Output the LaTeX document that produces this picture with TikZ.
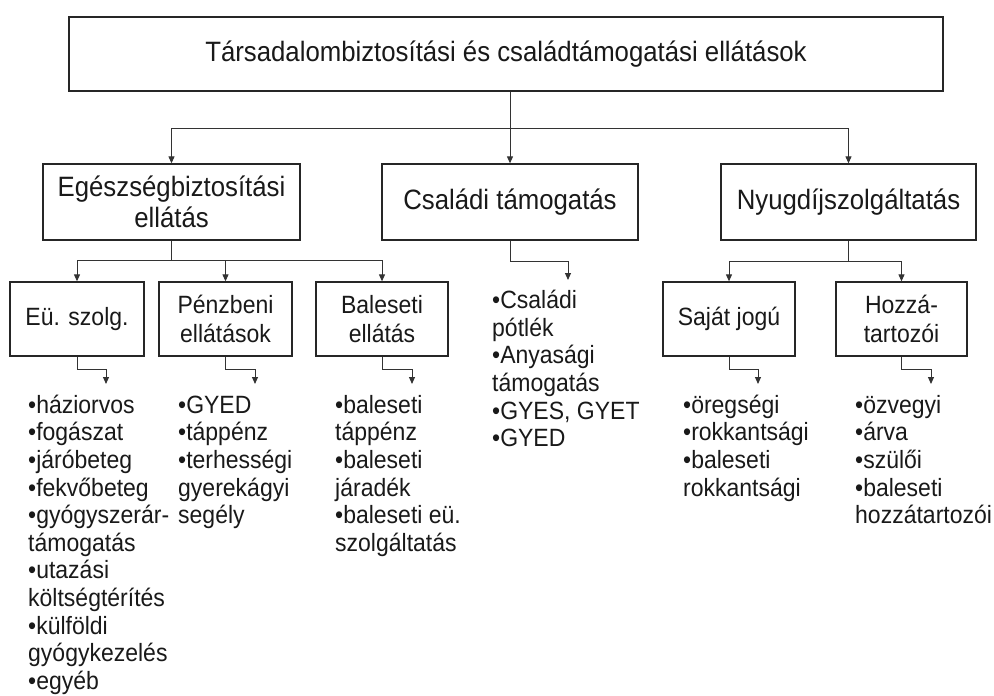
\documentclass[tikz,border=0pt]{standalone}
\usepackage{fontspec}
\setmainfont{Liberation Sans}[FakeStretch=0.92]
\usetikzlibrary{arrows.meta}
\begin{document}
\begin{tikzpicture}[x=1pt,y=-1pt,
  box/.style={draw=black!85, line width=1.3pt, inner sep=0pt, align=center, text=black!90},
  big/.style={font=\fontsize{28}{31}\selectfont},
  mid/.style={font=\fontsize{25}{29}\selectfont},
  lst/.style={anchor=north west, inner sep=0pt, align=left, text=black!90, font=\fontsize{25}{27.6}\selectfont},
  conn/.style={draw=black!80, line width=1pt},
  arr/.style={conn, -{Triangle[length=7pt,width=6pt]}}]
\useasboundingbox (0,0) rectangle (994,696);

% boxes
\node[box,big,minimum width=874pt,minimum height=74pt] (top) at (506,54) {Társadalombiztosítási és családtámogatási ellátások};
\node[box,big,minimum width=257pt,minimum height=76pt] (ege) at (171.5,202) {Egészségbiztosítási\\ellátás};
\node[box,big,minimum width=256pt,minimum height=76pt] (csa) at (510,202) {Családi támogatás};
\node[box,big,minimum width=255pt,minimum height=76pt] (nyu) at (848.5,202) {Nyugdíjszolgáltatás};

\node[box,mid,minimum width=134pt,minimum height=74pt] (eu) at (77,319) {Eü. szolg.};
\node[box,mid,minimum width=133pt,minimum height=74pt] (pen) at (225.5,319) {Pénzbeni\\ellátások};
\node[box,mid,minimum width=132pt,minimum height=74pt] (bal) at (382,319) {Baleseti\\ellátás};
\node[box,mid,minimum width=132pt,minimum height=74pt] (saj) at (729,319) {Saját jogú};
\node[box,mid,minimum width=131pt,minimum height=74pt] (hoz) at (901.5,319) {Hozzá-\\tartozói};

% lists
\node[lst] (l1) at (28,393.7) {\strut •háziorvos\\•fogászat\\•járóbeteg\\•fekvőbeteg\\•gyógyszerár-\\támogatás\\•utazási\\költségtérítés\\•külföldi\\gyógykezelés\\•egyéb};
\node[lst] (l2) at (178,393.7) {\strut •GYED\\•táppénz\\•terhességi\\gyerekágyi\\segély};
\node[lst] (l3) at (335,393.7) {\strut •baleseti\\táppénz\\•baleseti\\járadék\\•baleseti eü.\\szolgáltatás};
\node[lst] (l4) at (492,289.2) {\strut •Családi\\pótlék\\•Anyasági\\támogatás\\•GYES, GYET\\•GYED};
\node[lst] (l5) at (683,393.7) {\strut •öregségi\\•rokkantsági\\•baleseti\\rokkantsági};
\node[lst] (l6) at (855,393.7) {\strut •özvegyi\\•árva\\•szülői\\•baleseti\\hozzátartozói};

% junctions
\coordinate (j1) at (510,128);
\coordinate (j2) at (171.5,260);
\coordinate (j3) at (848.5,261);
\coordinate (k1) at (106,384);
\coordinate (k2) at (255,384);
\coordinate (k3) at (412,384);
\coordinate (k4) at (568,280);
\coordinate (k5) at (758,384);
\coordinate (k6) at (931,384);

% level 1 -> 2
\draw[conn] (top.south -| j1) -- (j1);
\draw[arr] (j1) -| (ege.north);
\draw[arr] (j1) -- (csa.north);
\draw[arr] (j1) -| (nyu.north);

% level 2 -> 3
\draw[conn] (ege.south) -- (j2);
\draw[arr] (j2) -| (eu.north);
\draw[arr] (j2) -| (pen.north);
\draw[arr] (j2) -| (bal.north);
\draw[conn] (nyu.south) -- (j3);
\draw[arr] (j3) -| (saj.north);
\draw[arr] (j3) -| (hoz.north);

% to lists
\draw[arr] (eu.south) -- ++(0,13) -| (k1);
\draw[arr] (pen.south) -- ++(0,13) -| (k2);
\draw[arr] (bal.south) -- ++(0,13) -| (k3);
\draw[arr] (csa.south) -- ++(0,21) -| (k4);
\draw[arr] (saj.south) -- ++(0,13) -| (k5);
\draw[arr] (hoz.south) -- ++(0,13) -| (k6);
\end{tikzpicture}
\end{document}
